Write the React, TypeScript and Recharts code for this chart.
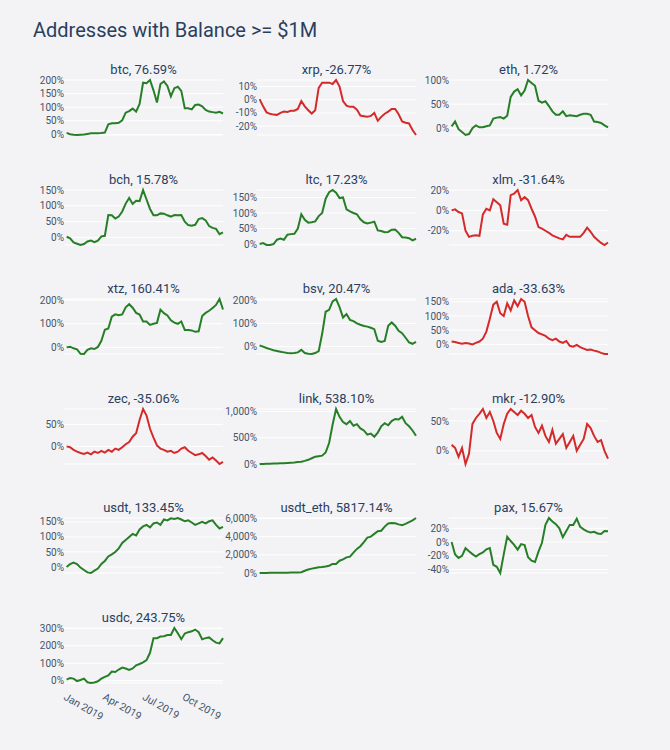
import React from 'react';
import { LineChart, Line, XAxis, YAxis, CartesianGrid } from 'recharts';

// day offsets from 1 Jan 2019
const DAYS = [6,14,22,30,38,46,54,62,70,78,86,94,102,110,118,126,134,142,150,158,166,174,182,190,198,206,214,222,230,238,246,254,262,270,278,286,294,302,310,318,326,334,342,350,358,366];
const XTICK_DAYS = [0, 90, 181, 273];
const XTICK_LABELS = ['Jan 2019', 'Apr 2019', 'Jul 2019', 'Oct 2019'];

const BTC = [6,1,-1,-2,-1,0,2,4,4,4,5,7,37,41,41,43,52,80,86,95,84,112,190,188,200,162,117,185,195,178,140,170,175,160,96,96,92,108,110,103,90,84,82,80,83,77];
const XRP = [0.5,-5,-9.6,-10.7,-11.3,-11.5,-10,-9,-9.3,-8.4,-8.3,-7,-1,-5,-8,-10.5,-8,9,13,13,13,12,15,10,-1,-4.5,-5.4,-5.4,-7.5,-12,-12.5,-13,-12.3,-10,-16,-13,-10.6,-9,-7,-7,-11,-16.5,-17.5,-18,-23,-26.8];
const ETH = [4,14,-2,-8,-14,-12,0,6,2,2,4,6,20,22,23,20,26,65,76,81,68,78,100,94,88,57,53,56,46,35,28,28,35,25,27,26,25,28,30,30,28,14,13,11,6,1.7];
const BCH = [2,-3,-16,-20,-24,-21,-13,-10,-15,-10,3,5,71,70,60,66,82,107,125,106,116,115,150,120,90,70,70,76,75,70,66,71,70,71,50,39,37,40,58,61,54,36,30,27,10,15.8];
const LTC = [0,3,-3,-3,0,14,18,14,30,32,33,50,96,78,69,70,73,90,100,146,167,174,165,148,150,112,105,100,96,80,70,66,69,72,44,42,38,39,46,47,36,22,21,19,12,17.2];
const XLM = [0,1,-1.6,-3,-20,-26,-25,-24.5,-25,-4,1.5,0,11,8,5,-13,-14,15,16.5,20,10,13,10,1.6,-6,-16.4,-18,-20,-22,-24.5,-26,-27.5,-28.5,-24,-26,-26,-26,-26,-22,-17,-21,-26,-29,-32,-34,-31.6];
const XTZ = [0,3,-4,-8,-27,-28,-10,-4,-7,2,28,75,80,130,140,136,140,170,183,168,146,139,110,110,95,100,104,160,145,135,115,105,100,110,74,74,72,66,68,133,146,155,167,180,205,160.4];
const BSV = [4.5,0,-6,-11,-16,-19,-22,-25,-28,-28.6,-28,-25,-14,-28,-31,-32,-28,-20,55,150,158,195,205,170,125,140,115,110,100,94,89,86,81,75,25,20,24,90,104,90,68,58,38,18,12,20.5];
const ADA = [10,8,5,2,5,3,0,5,10,20,45,90,140,150,110,100,145,120,155,135,160,150,100,60,50,40,35,30,20,15,20,10,5,12,-5,-8,-2,-10,-15,-20,-18,-22,-25,-30,-34,-33.6];
const ZEC = [0,-2,-8,-12,-15,-17,-14,-18,-12,-15,-10,-14,-8,-12,-5,-8,-2,5,10,22,30,60,85,70,40,20,2,-5,-8,-12,-10,-15,-12,-5,-2,-10,-15,-20,-18,-15,-22,-30,-25,-32,-40,-35];
const LINK = [0,2,5,3,8,10,12,15,20,25,30,40,45,60,80,110,140,150,160,220,400,750,1050,900,800,760,820,730,760,680,640,560,580,520,600,720,780,740,820,860,850,900,780,720,640,538];
const MKR = [10,5,-10,5,-22,-5,45,55,62,70,55,65,50,30,20,45,62,70,65,60,67,62,55,60,40,30,42,25,15,35,12,20,28,5,15,25,0,10,20,45,38,25,15,18,0,-12.9];
const USDT = [0,10,15,10,-2,-10,-18,-20,-12,-5,10,20,35,42,50,62,80,90,100,110,105,125,135,140,132,145,148,140,158,155,162,160,163,158,152,155,148,140,145,150,145,152,155,140,128,133.45];
const USDT_ETH = [0,5,10,15,20,25,30,35,40,45,50,60,80,250,380,480,560,620,660,720,800,1000,980,1350,1500,1720,1800,2250,2650,2950,3400,3900,4000,4300,4600,4650,5100,5450,5500,5480,5350,5250,5400,5600,5800,6050];
const PAX = [0,-18,-23,-20,-9,-13.5,-17.5,-21,-17.5,-15,-10.5,-8.6,-33,-36,-45,-18,7.6,1.5,-4,-11,-3,-4.5,-22,-27,-29,-14,-1,25,35,30,26,20,7,16,25,25,34,22,18.5,15.5,14,15,12.5,11.7,16,15.7];
const USDC = [6,16,12,-2,4,12,-9,-13,-10,-3,12,22,30,53,50,64,75,70,62,70,88,96,105,118,160,244,244,253,255,262,262,302,272,238,270,278,283,293,278,238,244,248,232,218,214,243.75];

const NAMES = ['btc','xrp','eth','bch','ltc','xlm','xtz','bsv','ada','zec','link','mkr','usdt','usdt_eth','pax','usdc'];
const CHANGES = ['76.59%','-26.77%','1.72%','15.78%','17.23%','-31.64%','160.41%','20.47%','-33.63%','-35.06%','538.10%','-12.90%','133.45%','5817.14%','15.67%','243.75%'];
const SERIES = [BTC,XRP,ETH,BCH,LTC,XLM,XTZ,BSV,ADA,ZEC,LINK,MKR,USDT,USDT_ETH,PAX,USDC];
const YTICKS = [
  [0,50,100,150,200],[-20,-10,0,10],[0,50,100],
  [0,50,100,150],[0,50,100,150],[-20,0,20],
  [0,100,200],[0,100,200],[0,50,100,150],
  [0,50],[0,500,1000],[0,50],
  [0,50,100,150],[0,2000,4000,6000],[-40,-20,0,20],
  [0,100,200,300],
];

const GREEN = '#267f26';
const RED = '#d42a2a';
const TEXT = '#2a3f5f';
const TICK = '#465468';
const BG = '#f3f3f5';

const COLS = [64, 257, 449];
const ROW0 = 80;
const ROW_STEP = 109.5;
const PLOT_W = 159;
const PLOT_H = 55;
const AXW = 52;
const PAD = 5;
const XH = 45;

const fmt = (v: number) => v.toLocaleString('en-US') + '%';

const DateTick = (props: any) => {
  const { x, y, payload } = props;
  const ax = x - 1;
  const ay = y + 16;
  const i = XTICK_DAYS.indexOf(payload.value);
  return (
    <text x={ax} y={ay} transform={`rotate(30 ${ax} ${ay})`} fontSize={10.5} fill={TICK} textAnchor="start">
      {XTICK_LABELS[i]}
    </text>
  );
};

function Panel({ idx }: { idx: number }) {
  const r = Math.floor(idx / 3);
  const c = idx % 3;
  const plotLeft = COLS[c];
  const plotTop = ROW0 + ROW_STEP * r;
  const values = SERIES[idx];
  const data = DAYS.map((d, i) => ({ d, v: values[i] }));
  const min = Math.min(...values);
  const max = Math.max(...values);
  const ticks = YTICKS[idx].filter((t) => t >= min && t <= max);
  const showX = idx === 15;
  const color = values[values.length - 1] >= 0 ? GREEN : RED;
  const width = AXW + PLOT_W + PAD;
  const height = PAD + PLOT_H + PAD + (showX ? XH : 0);
  return (
    <>
      <div style={{ position: 'absolute', left: plotLeft - 30, width: PLOT_W + 60, top: plotTop - 18, textAlign: 'center', fontSize: 13, lineHeight: '16px', color: TEXT, whiteSpace: 'nowrap' }}>
        {NAMES[idx]}, {CHANGES[idx]}
      </div>
      <div style={{ position: 'absolute', left: plotLeft - AXW, top: plotTop - PAD }}>
        <LineChart width={width} height={height} data={data} margin={{ top: PAD, right: PAD, bottom: PAD, left: 0 }}>
          <CartesianGrid horizontal vertical={false} stroke="#ffffff" strokeWidth={1} />
          <XAxis
            dataKey="d"
            type="number"
            domain={[0, 366]}
            hide={!showX}
            ticks={XTICK_DAYS}
            interval={0}
            tick={<DateTick />}
            tickLine={false}
            axisLine={false}
            tickSize={0}
            tickMargin={0}
            height={XH}
          />
          <YAxis
            type="number"
            domain={[min, max]}
            ticks={ticks}
            interval={0}
            width={AXW}
            tickLine={false}
            axisLine={false}
            tickSize={0}
            tickMargin={0}
            tickFormatter={fmt}
            tick={{ fontSize: 10, fill: TICK }}
          />
          <Line type="linear" dataKey="v" stroke={color} strokeWidth={2} dot={false} isAnimationActive={false} />
        </LineChart>
      </div>
    </>
  );
}

export default function App() {
  return (
    <div style={{ position: 'absolute', left: 0, top: 0, width: 670, height: 750, background: BG, fontFamily: 'Roboto, sans-serif', overflow: 'hidden' }}>
      <div style={{ position: 'absolute', left: 33, top: 18, fontSize: 20, lineHeight: '24px', color: TEXT, whiteSpace: 'nowrap' }}>
        Addresses with Balance &gt;= $1M
      </div>
      {NAMES.map((_, i) => (
        <Panel key={i} idx={i} />
      ))}
    </div>
  );
}
